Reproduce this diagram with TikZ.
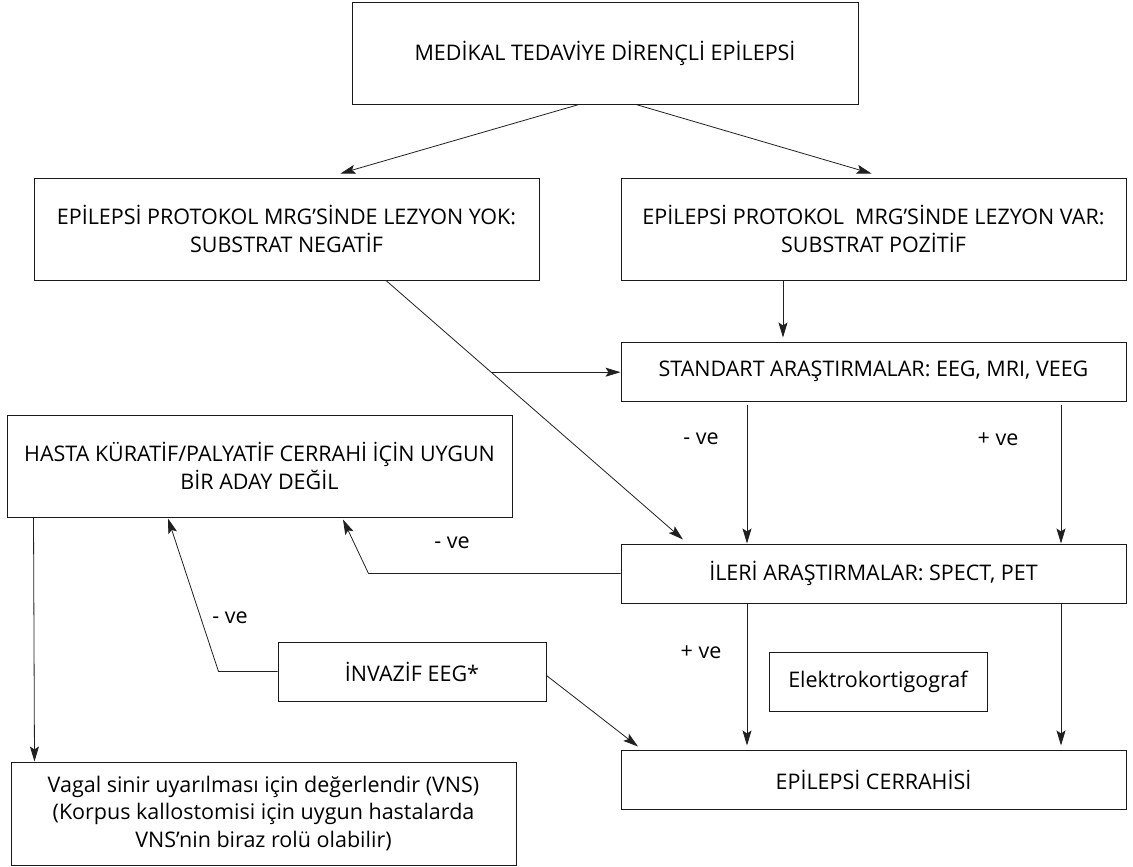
\documentclass[tikz,border=0pt]{standalone}
\usepackage{fontspec}
\setmainfont{Open Sans}
\usetikzlibrary{arrows.meta,calc}
\definecolor{boxline}{HTML}{1A1A1A}
\definecolor{linkline}{HTML}{202020}

\begin{document}
\begin{tikzpicture}[x=1pt,y=-1pt,
    box/.style={draw=boxline,line width=1pt,rectangle,align=center,inner sep=4pt,
      font=\fontsize{21.5}{27.5}\selectfont},
    widebox/.style={box,minimum width=505pt},
    arr/.style={linkline,line width=0.8pt,-{Stealth[length=15pt,width=9pt,inset=3pt]}},
    lbl/.style={font=\fontsize{21.5}{24}\selectfont}]
  \useasboundingbox (0,0) rectangle (1133,867);
  % boxes
  \node[box,minimum width=506pt,minimum height=101pt] (medical) at (605,53.5)
    {MEDİKAL TEDAVİYE DİRENÇLİ EPİLEPSİ};
  \node[widebox,minimum height=102pt] (lesionno) at (286.5,229)
    {EPİLEPSİ PROTOKOL MRG’SİNDE LEZYON YOK:\\SUBSTRAT NEGATİF};
  \node[widebox,minimum height=102pt] (lesionyes) at (873.5,229)
    {EPİLEPSİ PROTOKOL\ \ MRG’SİNDE LEZYON VAR:\\SUBSTRAT POZİTİF};
  \node[widebox,minimum height=59pt] (standard) at (873.5,371.5)
    {STANDART ARAŞTIRMALAR: EEG, MRI, VEEG};
  \node[widebox,minimum height=102pt] (nocandidate) at (259.5,466)
    {HASTA KÜRATİF/PALYATİF CERRAHİ İÇİN UYGUN\\BİR ADAY DEĞİL};
  \node[widebox,minimum height=59pt] (advanced) at (873.5,573.5)
    {İLERİ ARAŞTIRMALAR: SPECT, PET};
  \node[box,minimum width=268pt,minimum height=59pt] (invasive) at (412,671.5)
    {İNVAZİF EEG*};
  \node[box,minimum width=218pt,minimum height=59pt] (ecog) at (878,681.5)
    {Elektrokortigograf};
  \node[widebox,minimum height=59pt] (surgery) at (873.5,779.5)
    {EPİLEPSİ CERRAHİSİ};
  \node[widebox,minimum height=103pt] (vns) at (263.5,813.5)
    {Vagal sinir uyarılması için değerlendir (VNS)\\(Korpus kallostomisi için uygun hastalarda\\VNS’nin biraz rolü olabilir)};
  % connectors
  \draw[arr] ([xshift=-26pt]medical.south) -- ([xshift=54pt,yshift=4pt]lesionno.north);
  \draw[arr] ([xshift=31pt]medical.south) -- ([xshift=-2pt,yshift=4pt]lesionyes.north);
  \draw[arr] ([xshift=-90.5pt]lesionyes.south) -- ([xshift=-90.5pt,yshift=4pt]standard.north);
  \coordinate (diagstart) at ([xshift=99.5pt]lesionno.south);
  \coordinate (diagend) at ([xshift=-190.5pt,yshift=4pt]advanced.north);
  \draw[arr] (diagstart) -- (diagend);
  \coordinate (branch) at ($(diagstart)!0.354!(diagend)$);
  \draw[arr] (branch) -- (branch -| standard.west);
  \draw[arr] ([xshift=-126.5pt,yshift=-3pt]standard.south) -- ([xshift=-126.5pt]advanced.north);
  \draw[arr] ([xshift=187.5pt,yshift=-3pt]standard.south) -- ([xshift=187.5pt]advanced.north);
  \draw[arr] (advanced.west) -- ++(-252,0) -- ([xshift=83.5pt,yshift=-2pt]nocandidate.south);
  \draw[arr] ([xshift=-126.5pt]advanced.south) -- ([xshift=-126.5pt,yshift=4pt]surgery.north);
  \draw[arr] ([xshift=187.5pt]advanced.south) -- ([xshift=187.5pt,yshift=4pt]surgery.north);
  \draw[arr] (invasive.west) -- ++(-59,0) -- ([xshift=-91.5pt,yshift=-1pt]nocandidate.south);
  \draw[arr] ([yshift=-4pt]invasive.east) -- ([xshift=-235.5pt,yshift=3pt]surgery.north);
  \draw[arr] ([xshift=27pt]nocandidate.south west) -- ([xshift=24pt]vns.north west);
  % labels
  \node[lbl] (negstd) at (701,439) {- ve};
  \node[lbl] (posstd) at (998,439) {+ ve};
  \node[lbl] (negadv) at (452,543) {- ve};
  \node[lbl] (posadv) at (701,652) {+ ve};
  \node[lbl] (neginv) at (230,618) {- ve};
\end{tikzpicture}
\end{document}
